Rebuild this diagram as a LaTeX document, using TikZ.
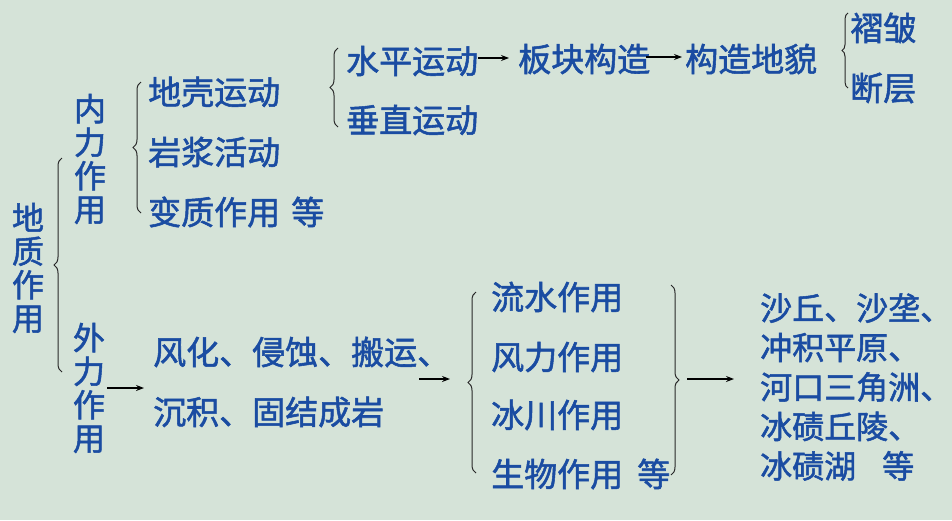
\documentclass[tikz,border=0pt]{standalone}
\usepackage{fontspec}
\setmainfont{Noto Sans CJK SC}[FakeBold=1.6]
\usetikzlibrary{decorations.pathreplacing,arrows.meta,calc}
\definecolor{bg}{RGB}{213,227,216}
\definecolor{txt}{RGB}{26,76,162}
\definecolor{ln}{RGB}{40,40,40}
\tikzset{
  item/.style={inner sep=0pt, text=txt, font=\fontsize{33}{33}\selectfont, anchor=west},
  vert/.style={inner sep=0pt, text=txt, font=\fontsize{32}{33.5}\selectfont, align=center},
  brc/.style={draw=ln, line width=1pt, decorate, decoration={brace, amplitude=8pt}},
  arr/.style={draw=black, line width=1.1pt, -{Stealth[length=8pt,width=6pt]}}
}
\begin{document}
\begin{tikzpicture}[x=1pt,y=-1pt]
\fill[bg] (0,0) rectangle (952,520);
\useasboundingbox (0,0) rectangle (952,520);
% vertical titles
\node[vert] (dz) at (28,268) {地\\质\\作\\用};
\node[vert] (nl) at (90,159) {内\\力\\作\\用};
\node[vert] (wl) at (89,388) {外\\力\\作\\用};
% inner forces
\node[item] (dk) at (148,92) {地壳运动};
\node[item] (yj) at (148,152) {岩浆活动};
\node[item] (bz) at (148,212) {变质作用\hspace{11pt}等};
\node[item] (sp) at (346,61) {水平运动};
\node[item] (cz) at (346,120) {垂直运动};
\node[item] (bk) at (518,59) {板块构造};
\node[item] (gz) at (685,59) {构造地貌};
\node[item] (zz) at (850,28) {褶皱};
\node[item] (dc) at (850,88) {断层};
% outer forces
\node[item] (fh) at (153,352) {风化、侵蚀、搬运、};
\node[item] (cj) at (153,412) {沉积、固结成岩};
\node[item] (ls) at (491,297) {流水作用};
\node[item] (fl) at (491,357) {风力作用};
\node[item] (bc) at (491,415) {冰川作用};
\node[item] (sw) at (491,474) {生物作用\hspace{14pt}等};
\node[item, align=left, font=\fontsize{32}{39.5}\selectfont] (dm) at (760,387)
  {沙丘、沙垄、\\冲积平原、\\河口三角洲、\\冰碛丘陵、\\冰碛湖\hspace{26pt}等};
% braces
\draw[brc] (62,372) -- (62,158);
\draw[brc] (141,213) -- (141,82);
\draw[brc] (338,127) -- (338,48);
\draw[brc, decoration={brace, amplitude=6pt}] (848,88) -- (848,13);
\draw[brc] (476,473) -- (476,292);
\draw[brc] (671,285) -- (671,475);
% arrows
\draw[arr] ([yshift=3pt]sp.east) -- ([xshift=-9pt,yshift=1pt]bk.west);
\draw[arr] ([xshift=-4pt,yshift=2pt]bk.east) -- ([xshift=-3pt,yshift=2pt]gz.west);
\coordinate (a3e) at ($(fh.west |- wl.east)+(-9,0)$);
\draw[arr] ([xshift=2pt]wl.east) -- (a3e);
\coordinate (a4s) at (419,379);
\coordinate (a4e) at (450,379);
\draw[arr] (a4s) -- (a4e);
\coordinate (a5s) at (687,379);
\draw[arr] (a5s) -- ($(dm.west |- a5s)+(-26,0)$);
\end{tikzpicture}
\end{document}
